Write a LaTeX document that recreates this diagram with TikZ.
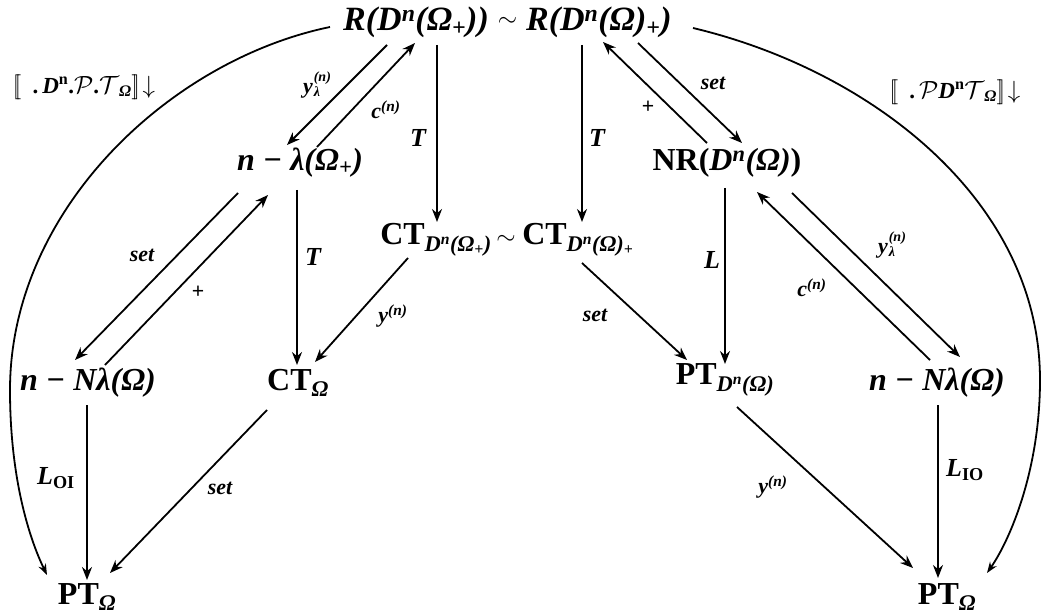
\documentclass[tikz,border=0pt]{standalone}
\usepackage{fontspec}
\setmainfont{Liberation Serif}
\usetikzlibrary{arrows.meta,calc}
\newcommand\up[1]{\textsuperscript{#1}}
\newcommand\dn[1]{\textsubscript{#1}}
\newcommand\ylam{y\kern1pt\raisebox{-0.35ex}{\shortstack[l]{\fontsize{14}{12}\selectfont(n)\\[-1pt]\fontsize{14}{12}\selectfont λ}}}
\begin{document}
\begin{tikzpicture}[x=1pt,y=-1pt,
  nd/.style={inner sep=0pt, font=\fontsize{32}{36}\selectfont\bfseries},
  td/.style={inner sep=0pt, font=\fontsize{34}{38}\selectfont\bfseries},
  lb/.style={inner sep=0pt, font=\fontsize{22}{26}\selectfont\bfseries\itshape},
  bl/.style={inner sep=0pt, font=\fontsize{26}{30}\selectfont\bfseries\itshape},
  cl/.style={inner sep=0pt, font=\fontsize{23}{27}\selectfont\bfseries},
  arr/.style={line width=1.8pt, -{Stealth[length=13pt,width=10pt]}},
  carr/.style={line width=1.8pt, -{Stealth[length=11pt,width=8pt]}}]
\useasboundingbox (0,0) rectangle (1042,615);
% nodes
\node[td, anchor=west] (RL) at (343,22) {\itshape R(D\up{n}(Ω\dn{+}))};
\node[td, anchor=east] (RR) at (672,22) {\itshape R(D\up{n}(Ω)\dn{+})};
\node[td] (t1) at ($(RL.east)!0.5!(RR.west)$) {$\sim$};
\node[nd] (nl) at (300,163) {\itshape n − λ(Ω\dn{+})};
\node[nd] (CTL) at (436,240) {CT\dn{\itshape D\up{n}(Ω\dn{+})}};
\node[nd] (t2) at (506,240) {$\sim$};
\node[nd] (CTR) at (578,240) {CT\dn{\itshape D\up{n}(Ω)\dn{+}}};
\node[nd] (NR) at (727,163) {NR({\itshape D\up{n}(Ω)})};
\node[nd] (nNl) at (88,383) {\itshape n − Nλ(Ω)};
\node[nd] (CTO) at (298,383) {CT\dn{\itshape Ω}};
\node[nd] (PTD) at (725,380) {PT\dn{\itshape D\up{n}(Ω)}};
\node[nd] (nNr) at (937,383) {\itshape n − Nλ(Ω)};
\node[nd] (PTL) at (87,597) {PT\dn{\itshape Ω}};
\node[nd] (PTR) at (947,597) {PT\dn{\itshape Ω}};
% labels
\node[lb] (l1) at (317,85) {\ylam};
\node[lb] (l2) at (386,110) {c\up{(n)}};
\node[bl] (l3) at (418,138) {T};
\node[bl] (l4) at (597,138) {T};
\node[lb] (l5) at (713,83) {set};
\node[lb] (l6) at (648,107) {+};
\node[lb] (l7) at (142,255) {set};
\node[lb] (l8) at (198,292) {+};
\node[bl] (l9) at (313,257) {T};
\node[lb] (l10) at (393,316) {y\up{(n)}};
\node[lb] (l11) at (595,315) {set};
\node[bl] (l12) at (712,260) {L};
\node[lb] (l13) at (892,245) {\ylam};
\node[lb] (l14) at (812,288) {c\up{(n)}};
\node[bl] (l15) at (56,478) {L\dn{\upshape OI}};
\node[lb] (l16) at (220,488) {set};
\node[lb] (l17) at (773,487) {y\up{(n)}};
\node[bl] (l18) at (965,470) {L\dn{\upshape IO}};
\node[cl] (l19) at (84,87) {$[\![$\ \ .\,\textit{D}\up{n}.$\mathcal{P}$.$\mathcal{T}$\dn{\textit{Ω}}$]\!]\!\downarrow$};
\node[cl] (l20) at (955,92) {$[\![$\ \ .\,$\mathcal{P}$\textit{D}\up{n}$\mathcal{T}$\dn{\textit{Ω}}$]\!]\!\downarrow$};
% connectors
\draw[arr] ([xshift=44pt,yshift=-23pt]RL.west) -- ([xshift=-13pt,yshift=18pt]nl.center);
\draw[arr] ([xshift=17pt,yshift=16pt]nl.center) -- ([xshift=72pt,yshift=-21pt]RL.west);
\draw[arr] ([xshift=94pt,yshift=-23pt]RL.west) -- ([xshift=1pt,yshift=18pt]CTL.center);
\draw[arr] ([xshift=-90pt,yshift=-23pt]RR.east) -- ([xshift=4pt,yshift=18pt]CTR.center);
\draw[arr] ([xshift=-20pt,yshift=20pt]NR.center) -- ([xshift=-69pt,yshift=-20pt]RR.east);
\draw[arr] ([xshift=-34pt,yshift=-21pt]RR.east) -- ([xshift=15pt,yshift=20pt]NR.center);
\draw[arr] ([xshift=-62pt,yshift=-30pt]nl.center) -- ([xshift=-13pt,yshift=23pt]nNl.center);
\draw[arr] ([xshift=17pt,yshift=18pt]nNl.center) -- ([xshift=-32pt,yshift=-32pt]nl.center);
\draw[arr] ([xshift=-3pt,yshift=-27pt]nl.center) -- ([xshift=-1pt,yshift=18pt]CTO.center);
\draw[arr] ([xshift=-28pt,yshift=-18pt]CTL.center) -- ([xshift=17pt,yshift=21pt]CTO.center);
\draw[arr] ([xshift=4pt,yshift=-23pt]CTR.center) -- ([xshift=-38pt,yshift=20pt]PTD.center);
\draw[arr] ([xshift=-2pt,yshift=-25pt]NR.center) -- ([xshift=0pt,yshift=16pt]PTD.center);
\draw[arr] ([xshift=-7pt,yshift=23pt]nNr.center) -- ([xshift=30pt,yshift=-29pt]NR.center);
\draw[arr] ([xshift=65pt,yshift=-30pt]NR.center) -- ([xshift=23pt,yshift=26pt]nNr.center);
\draw[arr] ([xshift=-1pt,yshift=-22pt]nNl.center) -- ([xshift=0pt,yshift=17pt]PTL.center);
\draw[arr] ([xshift=-31pt,yshift=-27pt]CTO.center) -- ([xshift=23pt,yshift=24pt]PTL.center);
\draw[arr] ([xshift=12pt,yshift=-27pt]PTD.center) -- ([xshift=-34pt,yshift=29pt]PTR.center);
\draw[arr] ([xshift=1pt,yshift=-22pt]nNr.center) -- ([xshift=-9pt,yshift=19pt]PTR.center);
\draw[carr] ([xshift=-13pt,yshift=-5pt]RL.west) .. controls (170,60) and (10,210) .. (10,390)
  .. controls (10,480) and (30,540) .. ([xshift=-40pt,yshift=22pt]PTL.center);
\draw[carr] ([xshift=21pt,yshift=-6pt]RR.east) .. controls (870,70) and (1040,200) .. (1040,380)
  .. controls (1040,470) and (1010,540) .. ([xshift=40pt,yshift=24pt]PTR.center);
\end{tikzpicture}
\end{document}
